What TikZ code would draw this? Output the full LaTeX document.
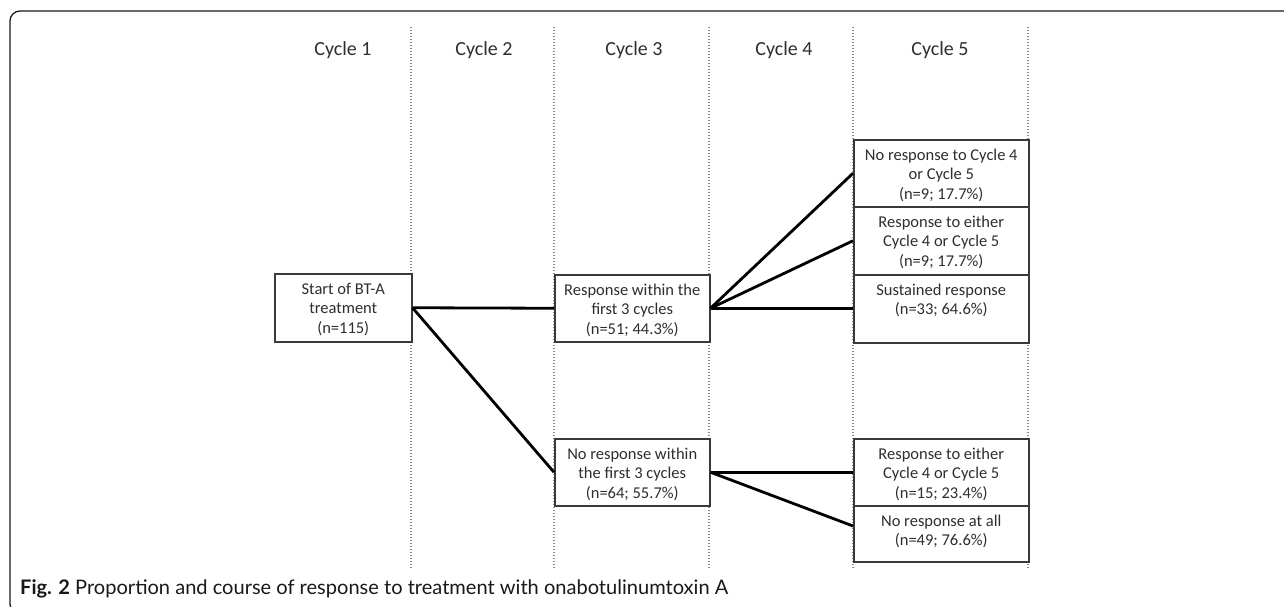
\documentclass[tikz,border=0pt]{standalone}
\usepackage{fontspec}
\usepackage{graphicx}
\setmainfont{Carlito}
\newfontfamily\capfont{Lato}
\usetikzlibrary{calc}
\definecolor{boxc}{HTML}{3A3A3A}
\definecolor{dotc}{HTML}{8A8A8A}
\definecolor{txtc}{HTML}{2E2E2E}
\newcommand\boxfont{\fontsize{16.5}{19.8}\selectfont}
\newcommand\cycfont{\fontsize{20}{24}\selectfont}
\newcommand\bxt[3]{\parbox[c][#2][t]{#1}{\centering\vspace*{6.5pt}\strut #3}}
\begin{document}
\begin{tikzpicture}[x=1pt,y=-1pt,
  bx/.style={draw=boxc, line width=1.5pt, fill=white, inner sep=0pt, anchor=north west, font=\boxfont, text=txtc},
  conn/.style={line width=2.8pt, black},
  vline/.style={draw=dotc, line width=1.3pt, dash pattern=on 1.3pt off 1.7pt},
  cyc/.style={font=\cycfont, text=txtc},
  frame/.style={draw=black!90, line width=1.3pt, rounded corners=10pt}]
\useasboundingbox (0,0) rectangle (1284,607);
\clip (0,0) rectangle (1284,607);
\draw[frame] (10,11) rectangle (1320,614);
% column separators
\foreach \x in {411,554,709,853,1028} \draw[vline] (\x,27) -- (\x,569);
% cycle headers
\node[cyc] (c1) at (343,50) {Cycle 1};
\node[cyc] (c2) at (484,50) {Cycle 2};
\node[cyc] (c3) at (634,50) {Cycle 3};
\node[cyc] (c4) at (784,50) {Cycle 4};
\node[cyc] (c5) at (940,50) {Cycle 5};
% boxes
\node[bx] (start) at (274,273) {\bxt{137pt}{68pt}{Start of BT-A\\treatment\\(n=115)}};
\node[bx] (resp) at (554,274) {\bxt{155pt}{67pt}{Response within the\\first 3 cycles\\(n=51; 44.3\%)}};
\node[bx] (nores) at (554,438) {\bxt{155pt}{67pt}{No response within\\the first 3 cycles\\(n=64; 55.7\%)}};
\node[bx] (r1) at (853,139) {\bxt{175pt}{67pt}{No response to Cycle 4\\or Cycle 5\\(n=9; 17.7\%)}};
\node[bx] (r2) at (853,206) {\bxt{175pt}{68pt}{Response to either\\Cycle 4 or Cycle 5\\(n=9; 17.7\%)}};
\node[bx] (r3) at (853,274) {\bxt{175pt}{68pt}{Sustained response\\(n=33; 64.6\%)}};
\node[bx] (r4) at (853,438) {\bxt{175pt}{67pt}{Response to either\\Cycle 4 or Cycle 5\\(n=15; 23.4\%)}};
\node[bx] (r5) at (853,505) {\bxt{175pt}{56pt}{No response at all\\(n=49; 76.6\%)}};
% connectors
\draw[conn] (start.east) -- (resp.west);
\draw[conn] (start.east) -- (nores.west);
\draw[conn] (resp.east) -- (r1.west);
\draw[conn] (resp.east) -- (r2.west);
\draw[conn] (resp.east) -- (resp.east -| r3.west);
\draw[conn] (nores.east) -- (nores.east -| r4.west);
\coordinate (r5in) at ($(r5.north west)+(0,21)$);
\draw[conn] (nores.east) -- (r5in);
% caption
\node[anchor=base west, inner sep=0pt, text=black!90] (cap) at (20,594) {\resizebox{708pt}{!}{\capfont\fontsize{18.8}{22}\selectfont\textbf{Fig. 2} Proportion and course of response to treatment with onabotulinumtoxin A}};
\end{tikzpicture}
\end{document}
